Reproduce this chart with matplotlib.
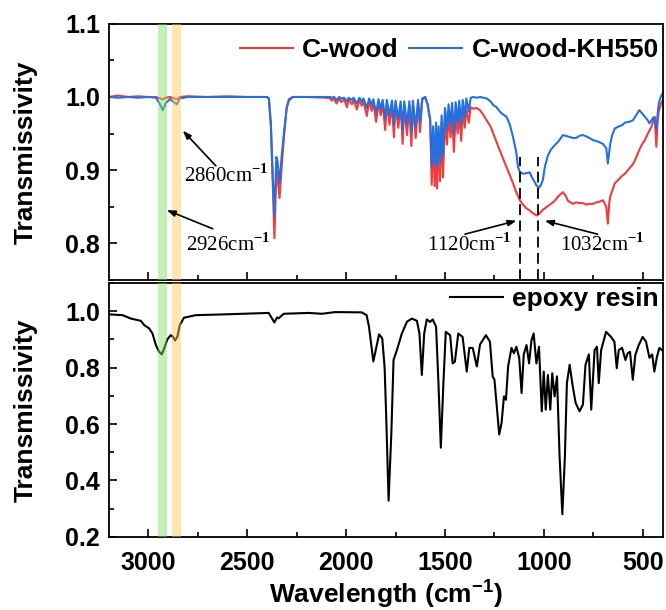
import numpy as np
import matplotlib
matplotlib.use("Agg")
import matplotlib.pyplot as plt
from matplotlib.ticker import MultipleLocator

# ---- data ----
wn_top = [3200, 3150, 3100, 3050, 3000, 2960, 2940, 2926, 2910, 2890, 2870, 2855, 2840, 2800,
          2700, 2600, 2500, 2400, 2390, 2380, 2370, 2362, 2352, 2346, 2336, 2325, 2314, 2300,
          2289, 2270, 2200, 2100,
          2080, 2072, 2060, 2048, 2035, 2024, 2010, 1995, 1987, 1970, 1962, 1945, 1933, 1920,
          1912, 1895, 1883, 1870, 1862, 1848, 1836, 1825, 1815, 1802, 1794, 1780, 1768, 1758,
          1750, 1736, 1724, 1714, 1706, 1692, 1680, 1670, 1662, 1648, 1636, 1626, 1615, 1600,
          1588, 1575, 1567, 1560, 1552, 1545, 1540, 1532, 1525, 1517, 1510, 1500, 1490, 1482,
          1472, 1464, 1455, 1446, 1436, 1428, 1418, 1410, 1400, 1392, 1380, 1370, 1357, 1340,
          1323, 1305, 1289, 1270, 1256, 1239, 1223, 1206, 1189, 1172, 1156, 1140, 1131, 1122,
          1106, 1089, 1072, 1060, 1047, 1038, 1025, 1015, 1005, 995, 980, 965, 946, 925,
          904, 890, 878, 865, 853, 837, 820, 803, 785, 770, 752, 736, 718, 702,
          685, 677, 670, 665, 655, 642, 620, 602, 591, 570, 551, 541, 518, 505,
          490, 475, 467, 457, 447, 440, 432, 426, 420, 410, 400]

t_cwood = [1.000, 1.002, 1.000, 1.001, 1.000, 1.000, 0.998, 0.997, 0.999, 1.000, 0.998, 0.997, 1.000, 1.001,
           1.000, 1.001, 1.000, 1.000, 0.998, 0.960, 0.880, 0.807, 0.900, 0.890, 0.862, 0.905, 0.945, 0.985,
           0.997, 1.000, 1.000, 0.999,
           0.998, 0.995, 0.998, 0.991, 0.998, 0.993, 0.997, 0.986, 0.997, 0.990, 0.996, 0.983, 0.996, 0.988,
           0.995, 0.974, 0.994, 0.981, 0.993, 0.966, 0.992, 0.975, 0.991, 0.955, 0.990, 0.962, 0.990, 0.945,
           0.989, 0.958, 0.988, 0.936, 0.988, 0.948, 0.988, 0.933, 0.990, 0.944, 0.992, 0.952, 0.996, 1.000,
           0.990, 0.968, 0.880, 0.950, 0.878, 0.955, 0.875, 0.950, 0.885, 0.965, 0.890, 0.970, 0.935, 0.975,
           0.945, 0.978, 0.925, 0.978, 0.950, 0.980, 0.940, 0.982, 0.958, 0.984, 0.965, 0.986, 0.984, 0.985,
           0.982, 0.975, 0.968, 0.960, 0.950, 0.938, 0.927, 0.915, 0.904, 0.893, 0.882, 0.870, 0.865, 0.859,
           0.853, 0.848, 0.845, 0.842, 0.840, 0.838, 0.840, 0.843, 0.846, 0.848, 0.851, 0.854, 0.858, 0.865,
           0.870, 0.865, 0.858, 0.856, 0.854, 0.856, 0.855, 0.855, 0.853, 0.854, 0.854, 0.856, 0.857, 0.859,
           0.850, 0.827, 0.855, 0.864, 0.872, 0.882, 0.888, 0.893, 0.895, 0.902, 0.908, 0.913, 0.928, 0.935,
           0.941, 0.950, 0.954, 0.959, 0.968, 0.973, 0.932, 0.965, 0.980, 0.990, 0.995]

t_kh550 = [1.000, 0.999, 1.000, 0.999, 1.000, 0.999, 0.990, 0.982, 0.992, 0.997, 0.993, 0.990, 0.998, 1.000,
           1.000, 1.000, 1.000, 1.000, 0.998, 0.965, 0.890, 0.838, 0.918, 0.912, 0.882, 0.920, 0.950, 0.985,
           0.995, 1.000, 1.000, 1.000,
           1.000, 0.999, 1.000, 0.996, 1.000, 0.998, 0.999, 0.994, 0.999, 0.996, 0.999, 0.991, 0.999, 0.994,
           0.998, 0.985, 0.998, 0.989, 0.997, 0.978, 0.997, 0.984, 0.996, 0.970, 0.996, 0.975, 0.995, 0.962,
           0.995, 0.970, 0.994, 0.954, 0.994, 0.963, 0.994, 0.951, 0.995, 0.958, 0.996, 0.965, 0.998, 1.000,
           0.990, 0.970, 0.905, 0.960, 0.908, 0.965, 0.905, 0.960, 0.910, 0.975, 0.920, 0.985, 0.955, 0.990,
           0.962, 0.992, 0.950, 0.993, 0.965, 0.995, 0.962, 0.996, 0.972, 0.998, 0.980, 0.999, 1.000, 0.999,
           1.000, 0.999, 0.998, 0.994, 0.989, 0.986, 0.980, 0.976, 0.973, 0.962, 0.945, 0.925, 0.904, 0.898,
           0.895, 0.896, 0.897, 0.890, 0.884, 0.879, 0.876, 0.880, 0.887, 0.905, 0.920, 0.928, 0.934, 0.940,
           0.948, 0.947, 0.946, 0.945, 0.944, 0.944, 0.947, 0.948, 0.946, 0.944, 0.941, 0.940, 0.938, 0.936,
           0.930, 0.909, 0.925, 0.936, 0.948, 0.957, 0.960, 0.962, 0.965, 0.966, 0.968, 0.972, 0.982, 0.978,
           0.973, 0.968, 0.964, 0.968, 0.972, 0.965, 0.955, 0.975, 0.991, 1.000, 1.005]

wn_epoxy = [3200, 3129, 3087, 3037, 3020, 2995, 2978, 2961, 2945, 2931, 2919, 2903, 2886, 2875,
            2864, 2852, 2840, 2819, 2760, 2609, 2391, 2374, 2362, 2349, 2340, 2315, 2189, 2122,
            2055, 1921, 1896, 1884, 1862, 1848, 1833, 1817, 1805, 1797, 1785, 1771, 1760, 1743,
            1718, 1692, 1667, 1642, 1629, 1617, 1605, 1592, 1575, 1562, 1545, 1533, 1521, 1508,
            1496, 1474, 1461, 1450, 1433, 1411, 1390, 1377, 1360, 1339, 1323, 1293, 1273, 1259,
            1250, 1226, 1214, 1202, 1192, 1181, 1164, 1152, 1139, 1125, 1113, 1102, 1088, 1075,
            1063, 1052, 1038, 1025, 1011, 1001, 991, 980, 968, 958, 946, 934, 921, 907,
            894, 884, 870, 857, 840, 820, 803, 790, 773, 761, 744, 732, 723, 711,
            686, 661, 644, 632, 622, 605, 588, 577, 565, 551, 538, 521, 501, 484,
            467, 453, 442, 430, 417, 400]

t_epoxy = [0.989, 0.986, 0.974, 0.966, 0.951, 0.939, 0.921, 0.880, 0.857, 0.847, 0.868, 0.900, 0.915, 0.910,
           0.896, 0.910, 0.951, 0.977, 0.986, 0.989, 0.994, 0.974, 0.960, 0.978, 0.975, 0.991, 0.994, 0.991,
           0.997, 0.996, 0.986, 0.945, 0.822, 0.868, 0.918, 0.904, 0.800, 0.627, 0.328, 0.569, 0.827, 0.862,
           0.921, 0.963, 0.974, 0.966, 0.921, 0.774, 0.921, 0.971, 0.962, 0.971, 0.945, 0.745, 0.516, 0.745,
           0.927, 0.915, 0.815, 0.821, 0.921, 0.909, 0.786, 0.870, 0.870, 0.804, 0.882, 0.915, 0.892, 0.769,
           0.757, 0.563, 0.604, 0.698, 0.686, 0.804, 0.870, 0.851, 0.874, 0.835, 0.710, 0.847, 0.880, 0.815,
           0.897, 0.921, 0.815, 0.874, 0.645, 0.786, 0.651, 0.774, 0.651, 0.780, 0.698, 0.769, 0.486, 0.280,
           0.486, 0.745, 0.810, 0.745, 0.675, 0.645, 0.669, 0.810, 0.847, 0.651, 0.862, 0.874, 0.745, 0.862,
           0.927, 0.909, 0.892, 0.798, 0.862, 0.870, 0.827, 0.851, 0.856, 0.757, 0.845, 0.880, 0.909, 0.892,
           0.835, 0.847, 0.786, 0.835, 0.870, 0.860]

bands = [(2950, 2905, "#7fe060"), (2880, 2835, "#ffc850")]
dashed_peaks = [1120, 1032]

plt.rcParams['font.family'] = ['Liberation Sans', 'DejaVu Sans']
plt.rcParams['font.weight'] = 'bold'
plt.rcParams['axes.labelweight'] = 'bold'
plt.rcParams['mathtext.fontset'] = 'custom'
plt.rcParams['mathtext.rm'] = 'Liberation Serif'
plt.rcParams['mathtext.bf'] = 'Liberation Sans:bold'

RED = "#f03c3c"
BLUE = "#2470e0"

fig = plt.figure(figsize=(6.66, 6.10), dpi=100)
ax1 = fig.add_axes([0.163, 0.541, 0.832, 0.420])
ax2 = fig.add_axes([0.163, 0.120, 0.832, 0.416])

ax1.plot(wn_top, t_cwood, color=RED, lw=1.5, label="C-wood")
ax1.plot(wn_top, t_kh550, color=BLUE, lw=1.5, label="C-wood-KH550")
ax2.plot(wn_epoxy, t_epoxy, color="black", lw=1.5, label="epoxy resin")

for ax in (ax1, ax2):
    for hi, lo, c in bands:
        ax.axvspan(lo, hi, color=c, alpha=0.45, lw=0, zorder=3)
    ax.set_xlim(3200, 400)
    ax.xaxis.set_major_locator(MultipleLocator(500))
    ax.xaxis.set_minor_locator(MultipleLocator(250))
    ax.tick_params(which='both', direction='in', labelsize=18, width=1.2)
    ax.tick_params(which='major', length=6)
    ax.tick_params(which='minor', length=3.5)
    ax.tick_params(axis='y', pad=6)
    ax.tick_params(axis='x', pad=10)
    for s in ax.spines.values():
        s.set_linewidth(1.3)
    ax.set_ylabel("Transmissivity", fontsize=19, va='center')
    ax.yaxis.set_label_coords(-0.15, 0.5)

ax1.set_ylim(0.75, 1.1)
ax1.yaxis.set_major_locator(MultipleLocator(0.1))
ax1.yaxis.set_minor_locator(MultipleLocator(0.05))
ax1.tick_params(axis='x', labelbottom=False)

ax2.set_ylim(0.2, 1.1)
ax2.set_yticks([0.2, 0.4, 0.6, 0.8, 1.0])
ax2.yaxis.set_minor_locator(MultipleLocator(0.1))
ax2.set_xlabel(r"Wavelength (cm$^{\mathbf{-1}}$)", fontsize=19, va='center')
ax2.xaxis.set_label_coords(0.5, -0.225)

# dashed markers at the two Si-O peaks
ax1.vlines(dashed_peaks, 0.75, 0.918, colors="black", linestyles=(0, (6, 3)), lw=1.3)

# annotations
ann_font = dict(family='Liberation Serif', fontsize=15, weight='normal', ha='center', va='center')
arrow = dict(arrowstyle='-|>,head_length=0.5,head_width=0.18', color='black', lw=1.2,
             shrinkA=0, shrinkB=0)
ax1.text(2607, 0.893, r"2860cm$^{-1}$", **ann_font)
ax1.annotate("", xy=(2825, 0.954), xytext=(2658, 0.906), arrowprops=arrow)
ax1.text(2597, 0.798, r"2926cm$^{-1}$", **ann_font)
ax1.annotate("", xy=(2906, 0.8455), xytext=(2674, 0.820), arrowprops=arrow)
ax1.text(1376, 0.799, r"1120cm$^{-1}$", **ann_font)
ax1.annotate("", xy=(1138, 0.831), xytext=(1399, 0.8126), arrowprops=arrow)
ax1.text(708, 0.799, r"1032cm$^{-1}$", **ann_font)
ax1.annotate("", xy=(996, 0.831), xytext=(729, 0.8126), arrowprops=arrow)

leg_kw = dict(frameon=False, fontsize=19, handlelength=2.0, handletextpad=0.35,
              borderaxespad=0.2, borderpad=0.2)
ax1.legend(loc='upper right', ncol=2, columnspacing=0.4, bbox_to_anchor=(1.012, 0.985), **leg_kw)
ax2.legend(loc='upper right', bbox_to_anchor=(1.012, 1.025), **leg_kw)

fig.savefig("out.png", dpi=100)
